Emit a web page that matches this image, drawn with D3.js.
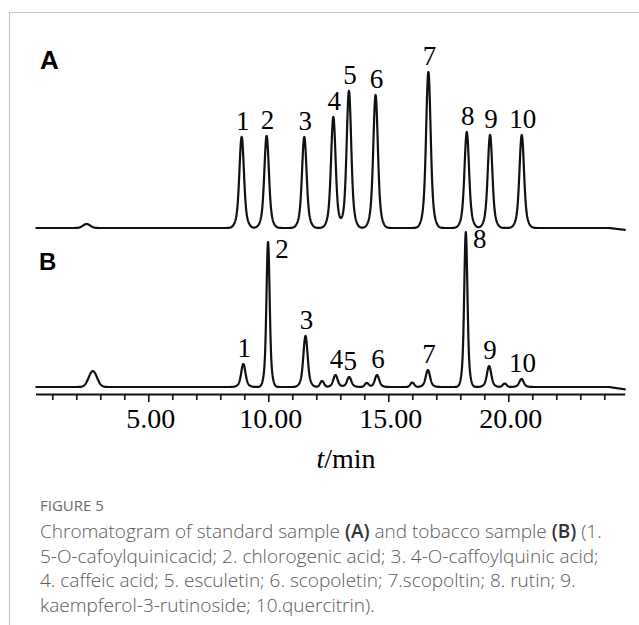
<!DOCTYPE html>
<html>
<head>
<meta charset="utf-8">
<script src="https://cdn.jsdelivr.net/npm/d3@7"></script>
<style>
body { margin: 0; background: #fff; }
</style>
</head>
<body>
<div id="chart"></div>
<script>
// peaks (time in min, height in trace units)
var peakNames = ["1", "2", "3", "4", "5", "6", "7", "8", "9", "10"];
var timesA = [8.89, 9.93, 11.50, 12.71, 13.36, 14.47, 16.67, 18.27, 19.24, 20.56];
var heightsA = [91, 92, 91, 111, 137, 133, 156, 96, 93, 93];
var timesB = [8.96, 9.99, 11.55, 12.80, 13.37, 14.53, 16.65, 18.23, 19.20, 20.55];
var heightsB = [23, 145, 51, 12, 10, 12, 17, 155, 21, 8];
// small unlabelled bumps
var minorTimesA = [2.43];
var minorHeightsA = [4];
var minorTimesB = [2.69, 12.24, 14.10, 16.00, 19.85];
var minorHeightsB = [16, 6, 4, 4.5, 3.5];
var tickValues = d3.range(1, 25);
var labelledTicks = [5, 10, 15, 20];
var captionLines = [
  "Chromatogram of standard sample |(A)| and tobacco sample |(B)| (1.",
  "5-O-cafoylquinicacid; 2. chlorogenic acid; 3. 4-O-caffoylquinic acid;",
  "4. caffeic acid; 5. esculetin; 6. scopoletin; 7.scopoltin; 8. rutin; 9.",
  "kaempferol-3-rutinoside; 10.quercitrin)."
];

var w = 639, h = 625;
var svg = d3.select("#chart").append("svg")
  .attr("width", w)
  .attr("height", h);

// light frame of the figure box
svg.append("path")
  .attr("d", "M9.5,625V12.5H639")
  .attr("fill", "none")
  .attr("stroke", "#c4c4c4")
  .attr("stroke-width", 1.2);

var x = d3.scaleLinear().domain([0, 25]).range([28.3, 628.3]);
var yA = d3.scaleLinear().domain([0, 160]).range([228, 68]);
var yB = d3.scaleLinear().domain([0, 160]).range([387, 227]);

function gauss(t, t0, hgt, s) {
  var z = (t - t0) / s;
  return hgt * Math.exp(-0.5 * z * z);
}

// sharp tip with a broader foot, like the scanned peaks
function peak(t, t0, hgt, s) {
  return 0.75 * gauss(t, t0, hgt, s) + 0.25 * gauss(t, t0, hgt, s * 2);
}

function trace(times, heights, sig, mTimes, mHeights, mSig, drift) {
  var pts = [];
  for (var t = 0.3; t <= 24.9; t += 0.01) {
    var v = 0;
    times.forEach(function(t0, i) { v += peak(t, t0, heights[i], sig(heights[i])); });
    mTimes.forEach(function(t0, i) { v += gauss(t, t0, mHeights[i], mSig(i)); });
    if (t > 24.2) v -= (t - 24.2) / 0.7 * drift;
    pts.push([t, v]);
  }
  return pts;
}

var ptsA = trace(timesA, heightsA, function() { return 0.085; },
  minorTimesA, minorHeightsA, function() { return 0.15; }, 2);
var ptsB = trace(timesB, heightsB, function(v) { return v > 100 ? 0.06 : 0.08; },
  minorTimesB, minorHeightsB, function(i) { return i === 0 ? 0.17 : 0.08; }, 2.5);

svg.append("path")
  .datum(ptsA)
  .attr("fill", "none")
  .attr("stroke", "#111")
  .attr("stroke-width", 2.2)
  .attr("stroke-linejoin", "round")
  .attr("d", d3.line().x(function(d) { return x(d[0]); }).y(function(d) { return yA(d[1]); }));

svg.append("path")
  .datum(ptsB)
  .attr("fill", "none")
  .attr("stroke", "#111")
  .attr("stroke-width", 2.2)
  .attr("stroke-linejoin", "round")
  .attr("d", d3.line().x(function(d) { return x(d[0]); }).y(function(d) { return yB(d[1]); }));

// peak numbers
var serif = "'Liberation Serif', 'Times New Roman', serif";
svg.selectAll("text.la").data(peakNames).enter().append("text")
  .attr("class", "la")
  .attr("x", function(d, i) { return x(timesA[i]) + 1; })
  .attr("y", function(d, i) { return yA(heightsA[i]) - 7; })
  .attr("text-anchor", "middle")
  .style("font-family", serif)
  .style("font-size", "27px")
  .text(function(d) { return d; });

svg.selectAll("text.lb").data(peakNames).enter().append("text")
  .attr("class", "lb")
  .attr("x", function(d, i) { return heightsB[i] > 100 ? x(timesB[i]) + 14 : x(timesB[i]) + 1; })
  .attr("y", function(d, i) { return heightsB[i] > 100 ? yB(heightsB[i]) + 16 : yB(heightsB[i]) - 7; })
  .attr("text-anchor", "middle")
  .style("font-family", serif)
  .style("font-size", "27px")
  .text(function(d) { return d; });

// panel letters
svg.append("text").attr("x", 40).attr("y", 69)
  .style("font-family", "'Liberation Sans', Arial, sans-serif")
  .style("font-weight", "bold").style("font-size", "26px").text("A");
svg.append("text").attr("x", 39).attr("y", 270)
  .style("font-family", "'Liberation Sans', Arial, sans-serif")
  .style("font-weight", "bold").style("font-size", "24px").text("B");

// time axis
var ax = svg.append("g")
  .attr("transform", "translate(0,394)")
  .call(d3.axisBottom(x.copy().domain([0.3, 24.85]).range([x(0.3), x(24.85)]))
    .tickValues(tickValues)
    .tickSize(6)
    .tickSizeOuter(0)
    .tickFormat(function(d) { return labelledTicks.indexOf(d) >= 0 ? d.toFixed(2) : ""; }));
ax.select(".domain").attr("stroke", "#111").attr("stroke-width", 2);
ax.selectAll(".tick line").attr("stroke", "#111").attr("stroke-width", 1.6)
  .attr("y2", function(d) { return d % 5 === 0 ? 8 : 6; });
ax.selectAll(".tick text")
  .attr("y", 34).attr("dy", 0).attr("dx", 2)
  .attr("fill", "#000")
  .style("font-family", serif)
  .style("font-size", "28px");

var xt = svg.append("text")
  .attr("x", 346).attr("y", 468)
  .attr("text-anchor", "middle")
  .style("font-family", serif)
  .style("font-size", "28px");
xt.append("tspan").style("font-style", "italic").text("t");
xt.append("tspan").text("/min");

// caption
var sans = "'Open Sans', 'Noto Sans', sans-serif";
svg.append("text").attr("x", 40).attr("y", 511)
  .style("font-family", sans).style("font-size", "15px")
  .attr("fill", "#6a6a6a").text("FIGURE 5");

captionLines.forEach(function(line, i) {
  var t = svg.append("text").attr("x", 40).attr("y", 538 + i * 24.5)
    .style("font-family", sans).style("font-size", "19px")
    .style("font-weight", 300)
    .attr("fill", "#5a5a5a");
  line.split("|").forEach(function(part, j) {
    t.append("tspan")
      .style("font-weight", j % 2 ? "600" : "300")
      .attr("fill", j % 2 ? "#333" : "#5a5a5a")
      .text(part);
  });
});
</script>
</body>
</html>
